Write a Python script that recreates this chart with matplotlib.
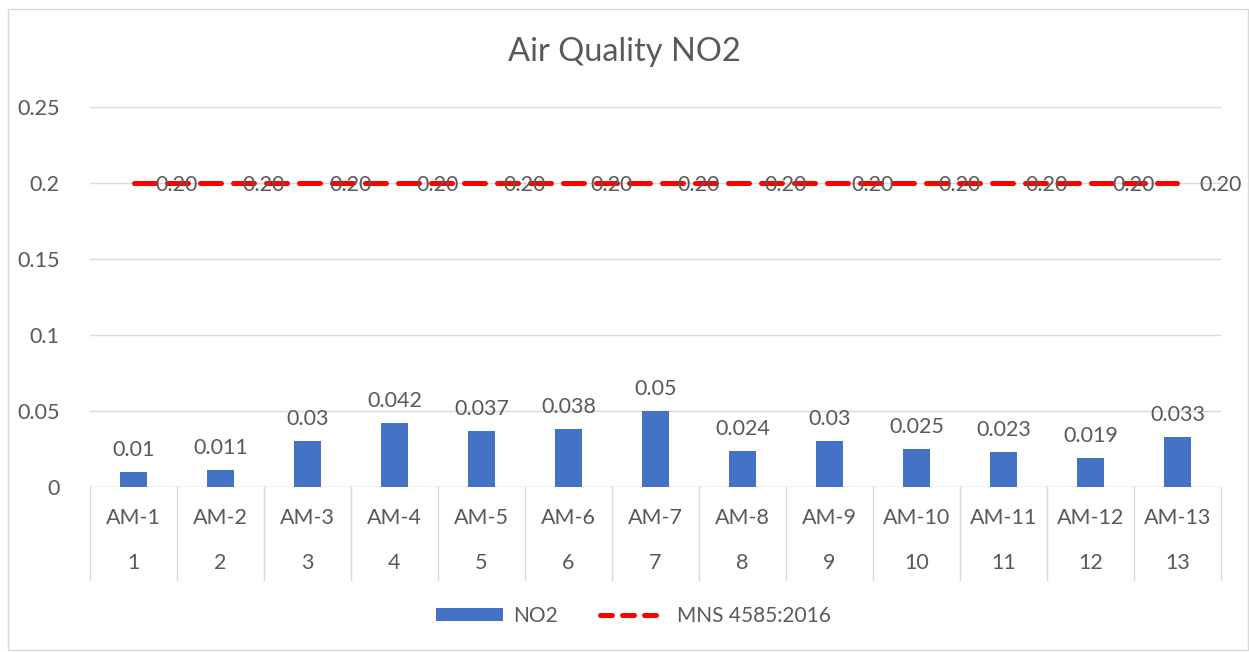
import matplotlib.pyplot as plt
import matplotlib.transforms as mtransforms
from matplotlib.patches import Rectangle
from matplotlib.lines import Line2D
import numpy as np

# data
sites = ["AM-1", "AM-2", "AM-3", "AM-4", "AM-5", "AM-6", "AM-7",
         "AM-8", "AM-9", "AM-10", "AM-11", "AM-12", "AM-13"]
numbers = ["1", "2", "3", "4", "5", "6", "7", "8", "9", "10", "11", "12", "13"]
no2 = [0.01, 0.011, 0.03, 0.042, 0.037, 0.038, 0.05,
       0.024, 0.03, 0.025, 0.023, 0.019, 0.033]
no2_labels = ["0.01", "0.011", "0.03", "0.042", "0.037", "0.038", "0.05",
              "0.024", "0.03", "0.025", "0.023", "0.019", "0.033"]
standard = [0.2] * 13

BAR_COLOR = "#4472C4"
LINE_COLOR = "#FF0000"
TEXT_COLOR = "#595959"
GRID_COLOR = "#D9D9D9"
FS = 15.5

plt.rcParams["font.family"] = ["Lato", "DejaVu Sans"]

fig = plt.figure(figsize=(12.49, 6.52), dpi=100)
fig.patches.append(Rectangle((8 / 1249, 0.003), 1 - 9 / 1249, 1 - 9 / 652 - 0.003,
                             transform=fig.transFigure, fill=False,
                             edgecolor="#D9D9D9", lw=1))
ax = fig.add_axes([90 / 1249, 1 - 487 / 652, (1221 - 90) / 1249, (487 - 107) / 652])

x = np.arange(len(sites))
bars = ax.bar(x, no2, width=0.32, color=BAR_COLOR, zorder=2, label="NO2")
ax.plot(x, standard, color=LINE_COLOR, lw=3.6, dashes=(4.2, 2.4),
        dash_capstyle="round", zorder=3)

for xi, v, lab in zip(x, no2, no2_labels):
    ax.annotate(lab, (xi, v), xytext=(0, 12), textcoords="offset pixels",
                ha="center", va="bottom", fontsize=FS, color=TEXT_COLOR)
for xi, v in zip(x, standard):
    ax.annotate(f"{v:.2f}", (xi, v), xytext=(22, -2), textcoords="offset pixels",
                ha="left", va="center", fontsize=FS, color=TEXT_COLOR, zorder=4)

ax.set_xlim(-0.5, len(sites) - 0.5)
ax.set_ylim(0, 0.25)
ax.set_yticks([0, 0.05, 0.1, 0.15, 0.2, 0.25])
ax.set_yticklabels(["0", "0.05", "0.1", "0.15", "0.2", "0.25"])
ax.tick_params(axis="y", length=0, pad=22, labelsize=FS, labelcolor=TEXT_COLOR)
ax.set_xticks([])
ax.grid(axis="y", color=GRID_COLOR, lw=1, zorder=0)
for s in ["top", "right", "left", "bottom"]:
    ax.spines[s].set_visible(False)
ax.axhline(0, color=GRID_COLOR, lw=1, zorder=1)

# two-level category axis
trans = mtransforms.blended_transform_factory(ax.transData, ax.transAxes)
for b in np.arange(len(sites) + 1) - 0.5:
    ax.plot([b, b], [0, -0.245], transform=trans, color=GRID_COLOR, lw=1, clip_on=False)
for xi, s, n in zip(x, sites, numbers):
    ax.text(xi, -0.082, s, transform=trans, ha="center", va="center",
            fontsize=FS, color=TEXT_COLOR)
    ax.text(xi, -0.2, n, transform=trans, ha="center", va="center",
            fontsize=FS, color=TEXT_COLOR)

fig.text(0.5, 1 - 52 / 652, "Air Quality NO2", ha="center", va="center",
         fontsize=23.5, color=TEXT_COLOR)

# legend uses shorter dashes, like the reference swatch
line_handle = Line2D([], [], color=LINE_COLOR, lw=3.6, dashes=(2.4, 2.0),
                     dash_capstyle="round", label="MNS 4585:2016")
leg = fig.legend(handles=[bars, line_handle], loc="center",
                 bbox_to_anchor=(0.507, 1 - 616 / 652),
                 ncol=2, frameon=False, fontsize=15, handlelength=3.2,
                 handleheight=0.55, columnspacing=2.0, handletextpad=0.5)
for t in leg.get_texts():
    t.set_color(TEXT_COLOR)

fig.savefig("out.png", dpi=100)
